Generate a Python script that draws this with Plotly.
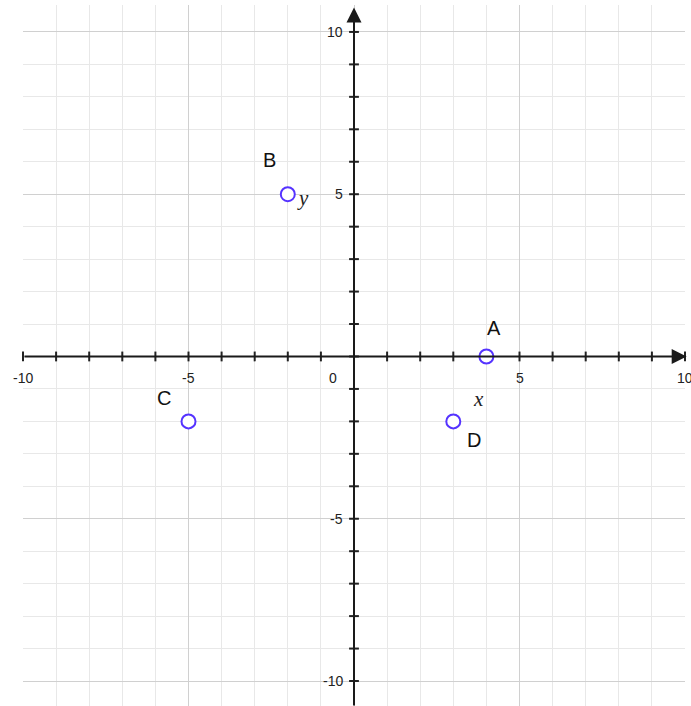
import plotly.graph_objects as go

# data
point_names = ['A', 'B', 'C', 'D']
point_x = [4, -2, -5, 3]
point_y = [0, 5, -2, -2]
label_shift = [(8, 28), (-18, 34), (-25, 23), (21, -19)]

x_ticks = list(range(-10, 11))
y_ticks = list(range(-10, 11))
x_labels = [-10, -5, 5, 10]
y_labels = [10, 5, -5, -10]

fig = go.Figure()

# tick marks along the axes
fig.add_trace(go.Scatter(
    x=x_ticks, y=[0] * len(x_ticks), mode='markers',
    marker=dict(symbol='line-ns', size=7, line=dict(color='#222', width=2)),
    hoverinfo='skip', showlegend=False, cliponaxis=False,
))
fig.add_trace(go.Scatter(
    x=[0] * len(y_ticks), y=y_ticks, mode='markers',
    marker=dict(symbol='line-ew', size=7, line=dict(color='#222', width=2)),
    hoverinfo='skip', showlegend=False, cliponaxis=False,
))

# axis lines with arrows
fig.add_annotation(x=10.05, y=0, ax=-10, ay=0, axref='x', ayref='y',
                   showarrow=True, arrowhead=2, arrowsize=1.5, arrowwidth=2,
                   arrowcolor='#1a1a1a', text='')
fig.add_annotation(x=0, y=10.75, ax=0, ay=-10.8, axref='x', ayref='y',
                   showarrow=True, arrowhead=2, arrowsize=1.5, arrowwidth=2,
                   arrowcolor='#1a1a1a', text='')

tick_font = dict(family='Liberation Sans, Arial', size=14, color='#222')
for v in x_labels:
    fig.add_annotation(x=v, y=0, text=str(v), showarrow=False, yshift=-22, font=tick_font)
fig.add_annotation(x=0, y=0, text='0', showarrow=False, xshift=-21, yshift=-22, font=tick_font)
for v in y_labels:
    fig.add_annotation(x=0, y=v, text=str(v), showarrow=False, xanchor='right',
                       xshift=-9, font=tick_font)

# points
fig.add_trace(go.Scatter(
    x=point_x, y=point_y, mode='markers',
    marker=dict(symbol='circle', size=14, color='white',
                line=dict(color='#5533ff', width=2)),
    showlegend=False, cliponaxis=False,
))
for name, px, py, (dx, dy) in zip(point_names, point_x, point_y, label_shift):
    fig.add_annotation(x=px, y=py, text=name, showarrow=False, xshift=dx, yshift=dy,
                       font=dict(family='Liberation Sans, Arial', size=20, color='#111'))

# axis letters
var_font = dict(family='Liberation Serif, Times New Roman', size=21, color='#222')
fig.add_annotation(x=3.75, y=-1.3, text='<i>x</i>', showarrow=False, font=var_font)
fig.add_annotation(x=-1.55, y=4.88, text='<i>y</i>', showarrow=False, font=var_font)

fig.update_xaxes(range=[-10, 10], dtick=5, tick0=0, showgrid=True, gridcolor='#d0d0d0',
                 gridwidth=1, zeroline=False, showticklabels=False, ticks='',
                 minor=dict(dtick=1, showgrid=True, gridcolor='#e8e8e8', gridwidth=1),
                 fixedrange=True)
fig.update_yaxes(range=[-10.77, 10.83], dtick=5, tick0=0, showgrid=True, gridcolor='#d0d0d0',
                 gridwidth=1, zeroline=False, showticklabels=False, ticks='',
                 minor=dict(dtick=1, showgrid=True, gridcolor='#e8e8e8', gridwidth=1),
                 fixedrange=True)
fig.update_layout(width=691, height=706, margin=dict(l=23, r=6, t=5, b=0),
                  plot_bgcolor='white', paper_bgcolor='white', showlegend=False)

fig.write_html("out.html", config={'displayModeBar': False},
               post_script="document.body.style.margin='0';")
